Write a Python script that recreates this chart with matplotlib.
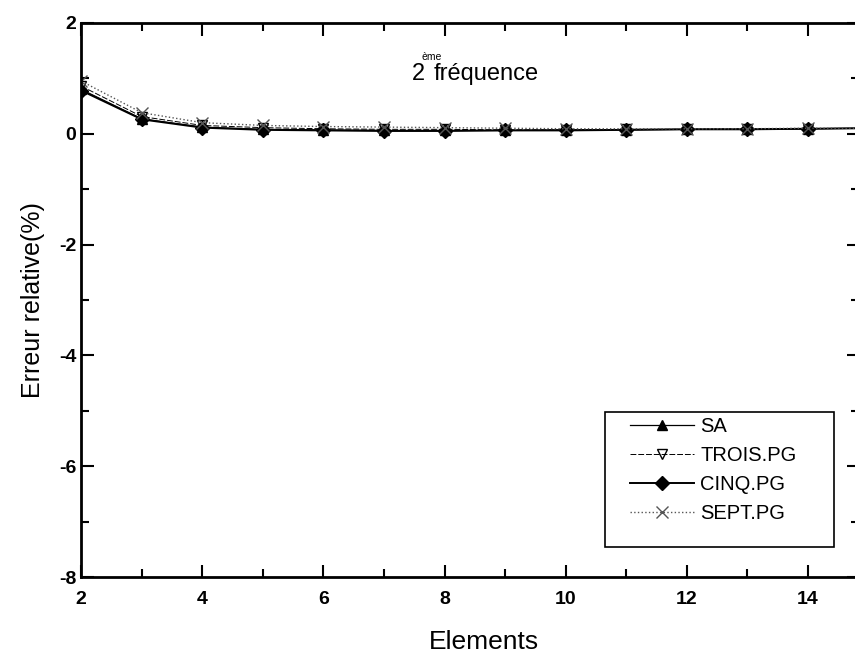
import numpy as np
import matplotlib.pyplot as plt
from matplotlib.ticker import MultipleLocator
from matplotlib.patches import Rectangle

plt.rcParams['font.family'] = ['Liberation Sans', 'DejaVu Sans']
plt.rcParams['axes.unicode_minus'] = False

# Donnees
elements = [2, 3, 4, 5, 6, 7, 8, 9, 10, 11, 12, 13, 14, 15]
sa = [0.80, 0.27, 0.12, 0.08, 0.07, 0.06, 0.06, 0.06, 0.07, 0.07, 0.08, 0.08, 0.09, 0.10]
trois = [0.86, 0.31, 0.15, 0.11, 0.09, 0.08, 0.08, 0.07, 0.07, 0.08, 0.08, 0.09, 0.09, 0.10]
cinq = [0.78, 0.26, 0.11, 0.07, 0.06, 0.05, 0.05, 0.06, 0.06, 0.07, 0.08, 0.08, 0.09, 0.10]
sept = [0.95, 0.38, 0.20, 0.15, 0.13, 0.12, 0.11, 0.10, 0.09, 0.09, 0.09, 0.09, 0.10, 0.10]

fig = plt.figure(figsize=(8.55, 6.55), dpi=100)
ax = fig.add_axes([0.095, 0.119, 0.91, 0.846])

ax.plot(elements, sa, '-', color='black', lw=0.9, marker='^', ms=7, label='SA')
ax.plot(elements, trois, '--', color='black', lw=0.7, marker='v', ms=7,
        mfc='none', dashes=(6, 2), label='TROIS.PG')
ax.plot(elements, cinq, '-', color='black', lw=1.4, marker='D', ms=7, label='CINQ.PG')
ax.plot(elements, sept, ':', color='#555555', lw=1.0, marker='x', ms=8, label='SEPT.PG')

ax.set_xlim(2, 14.85)
ax.set_ylim(-8, 2)
ax.xaxis.set_major_locator(MultipleLocator(2))
ax.xaxis.set_minor_locator(MultipleLocator(1))
ax.yaxis.set_major_locator(MultipleLocator(2))
ax.yaxis.set_minor_locator(MultipleLocator(1))
ax.tick_params(which='both', direction='in', top=True, right=True, width=1.5)
ax.tick_params(which='major', length=9, labelsize=14)
ax.tick_params(which='minor', length=6)
ax.tick_params(axis='x', which='major', pad=10)
for lab in ax.get_xticklabels() + ax.get_yticklabels():
    lab.set_fontweight('bold')
for s in ax.spines.values():
    s.set_linewidth(2)

ax.set_xlabel('Elements', fontsize=19, labelpad=14)
ax.xaxis.set_label_coords(0.518, -0.095)
ax.set_ylabel('Erreur relative(%)', fontsize=18, labelpad=10)

ax.text(0.425, 0.908, '2', transform=ax.transAxes, fontsize=17, ha='left', va='center')
ax.text(0.437, 0.938, 'ème', transform=ax.transAxes, fontsize=7.5, ha='left', va='center')
ax.text(0.453, 0.908, 'fréquence', transform=ax.transAxes, fontsize=17,
        ha='left', va='center')

# cadre de la legende dessine a part
ax.add_patch(Rectangle((0.673, 0.054), 0.295, 0.244, transform=ax.transAxes,
                       fill=False, edgecolor='black', lw=1.2, zorder=5))
leg = ax.legend(loc='center left', bbox_to_anchor=(0.705, 0.193), fontsize=14.5,
                frameon=False, handlelength=3.2, handletextpad=0.3,
                borderpad=0.0, borderaxespad=0.0, labelspacing=0.5)

fig.savefig('out.png', dpi=100)
